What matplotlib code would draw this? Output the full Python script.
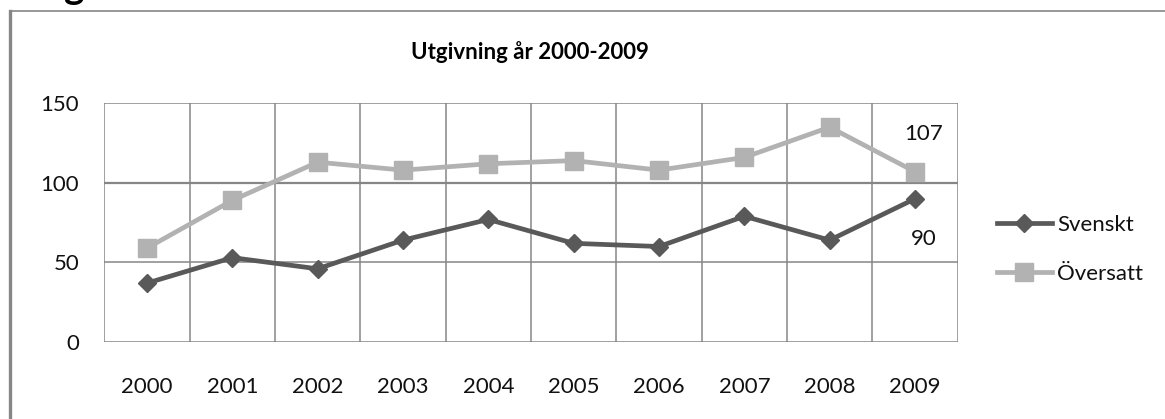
import matplotlib
matplotlib.use("Agg")
import matplotlib.pyplot as plt
from matplotlib.lines import Line2D

years = ["2000", "2001", "2002", "2003", "2004", "2005", "2006", "2007", "2008", "2009"]
svenskt = [37, 53, 46, 64, 77, 62, 60, 79, 64, 90]
oversatt = [59, 89, 113, 108, 112, 114, 108, 116, 135, 107]
yticks = [0, 50, 100, 150]
title = "Utgivning år 2000-2009"

plt.rcParams['font.family'] = ['Lato', 'DejaVu Sans']

W, H = 1165, 419
fig = plt.figure(figsize=(W / 100, H / 100), dpi=100)
ax = fig.add_axes([104.3 / W, (H - 342) / H, (957.7 - 104.3) / W, (342 - 103.3) / H])

x = list(range(len(years)))
grid_c = "#868686"
txt_c = "#111111"
fs = 16
ax.set_xlim(-0.5, len(years) - 0.5)
ax.set_ylim(0, 150)
for v in yticks:
    ax.axhline(v, color=grid_c, lw=1.6 if v == 100 else 1.1, zorder=1)
for b in range(len(years) + 1):
    ax.axvline(b - 0.5, color=grid_c, lw=1.1, zorder=1)
for s in ax.spines.values():
    s.set_visible(False)

l1, = ax.plot(x, svenskt, color="#595959", lw=3.4, marker="D", markersize=9.5,
              label="Svenskt", zorder=4, solid_joinstyle="round")
l2, = ax.plot(x, oversatt, color="#b2b2b2", lw=3.4, marker="s", markersize=13.5,
              label="Översatt", zorder=3)

ax.set_xticks(x)
ax.set_xticklabels(years)
ax.set_yticks(yticks)
ax.tick_params(axis="both", length=0, labelsize=fs, colors=txt_c)
ax.tick_params(axis="x", pad=25)
ax.tick_params(axis="y", pad=18)

ax.annotate(str(oversatt[-1]), (x[-1], oversatt[-1]), xytext=(6, 27), textcoords="offset points",
            ha="center", va="center", fontsize=fs, color=txt_c)
ax.annotate(str(svenskt[-1]), (x[-1], svenskt[-1]), xytext=(6, -29), textcoords="offset points",
            ha="center", va="center", fontsize=fs, color=txt_c)

fig.text(530 / W, 1 - 52 / H, title, ha="center", va="center", fontsize=16, fontweight="bold")

leg = fig.legend(handles=[l1, l2], loc="center left", bbox_to_anchor=(988 / W, 1 - 249.5 / H),
                 frameon=False, fontsize=fs, handlelength=2.48, handletextpad=0.22,
                 labelspacing=1.29, borderaxespad=0)
for t in leg.get_texts():
    t.set_color(txt_c)

# outer chart border (left and top visible)
fig.add_artist(Line2D([9.5 / W, 9.5 / W], [0, 1 - 11.5 / H], color=grid_c, lw=2.4,
                      transform=fig.transFigure))
fig.add_artist(Line2D([9.5 / W, 1], [1 - 11.5 / H, 1 - 11.5 / H], color=grid_c, lw=1.2,
                      transform=fig.transFigure))
# clipped heading fragment at top-left (only its descender shows in the reference)
fig.text(64 / W, 1 + 1.5 / H, "g", ha="left", va="baseline", fontsize=28, fontweight="bold")

fig.savefig("out.png", dpi=100)
